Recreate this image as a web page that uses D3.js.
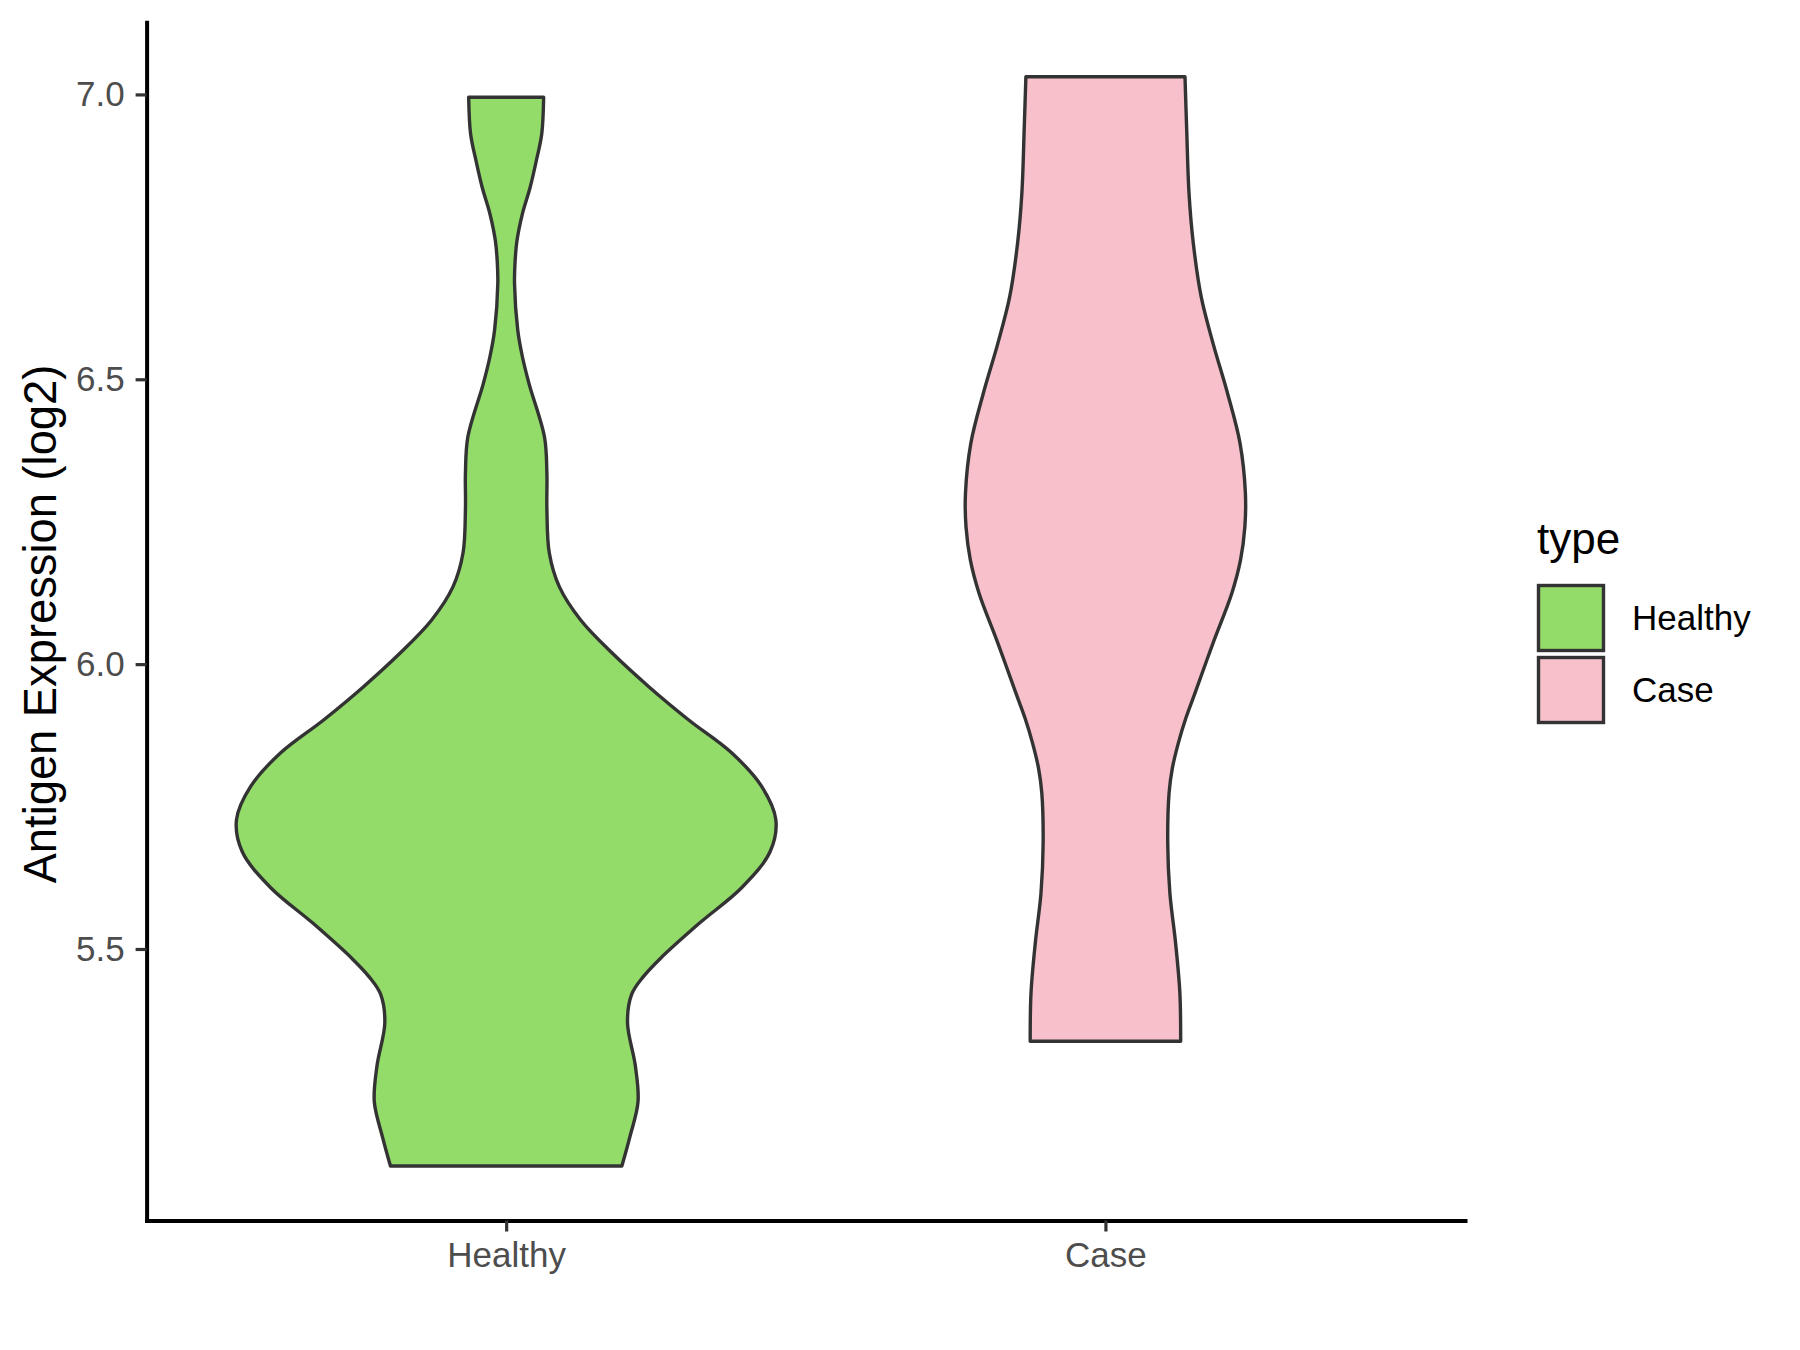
<!DOCTYPE html>
<html>
<head>
<meta charset="utf-8">
<script src="https://cdn.jsdelivr.net/npm/d3@7"></script>
<style>
  body { margin: 0; background: #ffffff; }
  text { font-family: "Liberation Sans", Arial, sans-serif; }
</style>
</head>
<body>
<script>
// categories on the x axis
let categories = ['Healthy', 'Case'];

// violin outlines: expression level (log2) and
// scaled density (1 = widest point of all violins)
let healthyValues = [6.995, 6.931, 6.884, 6.837, 6.790, 6.743, 6.706, 6.668, 6.586, 6.540,
  6.492, 6.399, 6.336, 6.273, 6.195, 6.136, 6.077, 6.019, 5.960, 5.902,
  5.844, 5.785, 5.727, 5.671, 5.608, 5.545, 5.483, 5.451, 5.420,
  5.370, 5.295, 5.232, 5.169, 5.119];
let healthyDensity = [0.139, 0.132, 0.112, 0.089, 0.060, 0.040, 0.033, 0.031, 0.043, 0.060,
  0.085, 0.142, 0.151, 0.151, 0.160, 0.197, 0.277, 0.394, 0.530, 0.677,
  0.837, 0.948, 1.000, 0.979, 0.874, 0.716, 0.571, 0.508, 0.465,
  0.450, 0.479, 0.489, 0.458, 0.429];

let caseValues = [7.031, 6.943, 6.826, 6.738, 6.645, 6.563, 6.475, 6.388, 6.300, 6.241,
  6.183, 6.125, 6.037, 5.949, 5.905, 5.861, 5.817, 5.774, 5.686, 5.598,
  5.511, 5.423, 5.338];
let caseDensity = [0.295, 0.301, 0.310, 0.326, 0.355, 0.399, 0.453, 0.499, 0.519, 0.517,
  0.501, 0.469, 0.399, 0.332, 0.298, 0.270, 0.248, 0.236, 0.231, 0.239,
  0.260, 0.276, 0.279];

let yTicks = [5.5, 6.0, 6.5, 7.0];

// configuration of svg/plot area
let config = {
  'svg': {},
  'plot': {},
  'colors': {}
};

config.svg.width = 1800;
config.svg.height = 1350;

config.plot.left = 146.6;
config.plot.right = 1465;
config.plot.top = 22.3;
config.plot.bottom = 1220.5;

config.colors.Healthy = '#93DC6A';
config.colors.Case = '#F7C0CB';
config.colors.outline = '#333333';
config.colors.tickText = '#4D4D4D';

// helper method to make translating easier
function translate(x, y) {
  return 'translate(' + x + ',' + y + ')';
}

let svg = d3.select('body').append('svg')
  .attr('width', config.svg.width)
  .attr('height', config.svg.height);

let groups = [
  { name: 'Healthy', values: healthyValues, density: healthyDensity },
  { name: 'Case', values: caseValues, density: caseDensity }
];

// y domain: data range plus 5% on each side (like ggplot)
let allValues = healthyValues.concat(caseValues);
let lo = d3.min(allValues);
let hi = d3.max(allValues);
let pad = (hi - lo) * 0.05;

let yScale = d3.scaleLinear()
  .domain([lo - pad, hi + pad])
  .range([config.plot.bottom, config.plot.top]);

let xScale = d3.scalePoint()
  .domain(categories)
  .range([config.plot.left, config.plot.right])
  .padding(0.6);

// violin width 0.9 of a category step
let widthScale = d3.scaleLinear()
  .domain([0, 1])
  .range([0, 0.45 * xScale.step()]);

// violins
let violins = svg.append('g').attr('id', 'violins');

groups.forEach(function(g) {
  let cx = xScale(g.name);
  let points = g.values.map((v, i) => ({ v: v, d: g.density[i] }));

  let area = d3.area()
    .y(d => yScale(d.v))
    .x0(d => cx - widthScale(d.d))
    .x1(d => cx + widthScale(d.d))
    .curve(d3.curveCatmullRom);

  violins.append('path')
    .datum(points)
    .attr('d', area)
    .attr('fill', config.colors[g.name])
    .attr('stroke', config.colors.outline)
    .attr('stroke-width', 3.4)
    .attr('stroke-linejoin', 'round');
});

// axes
let yAxis = d3.axisLeft(yScale)
  .tickValues(yTicks)
  .tickFormat(d3.format('.1f'))
  .tickSize(11)
  .tickSizeOuter(0)
  .tickPadding(11);

let xAxis = d3.axisBottom(xScale)
  .tickSize(11)
  .tickSizeOuter(0)
  .tickPadding(11);

let yGroup = svg.append('g').attr('id', 'y-axis')
  .attr('transform', translate(config.plot.left, 0))
  .call(yAxis);

let xGroup = svg.append('g').attr('id', 'x-axis')
  .attr('transform', translate(0, config.plot.bottom))
  .call(xAxis);

[yGroup, xGroup].forEach(function(g) {
  g.attr('font-size', 35).attr('font-family', '"Liberation Sans", Arial, sans-serif');
  g.select('.domain')
    .attr('stroke', '#000000')
    .attr('stroke-width', 4)
    .attr('stroke-linecap', 'square');
  g.selectAll('.tick line')
    .attr('stroke', config.colors.outline)
    .attr('stroke-width', 3.2);
  g.selectAll('.tick text')
    .attr('fill', config.colors.tickText);
});

// text label for the y axis
svg.append('text')
  .attr('transform', translate(56, 624) + ' rotate(-90)')
  .attr('text-anchor', 'middle')
  .attr('font-size', 45.3)
  .attr('fill', '#000000')
  .text('Antigen Expression (log2)');

// legend
let legend = svg.append('g').attr('id', 'legend')
  .attr('transform', translate(1537, 554));

legend.append('text')
  .attr('x', 0)
  .attr('y', 0)
  .attr('font-size', 44)
  .attr('fill', '#000000')
  .text('type');

let keys = legend.selectAll('.key')
  .data(categories)
  .enter().append('g')
  .attr('class', 'key')
  .attr('transform', (d, i) => translate(0, 30 + i * 72));

keys.append('rect')
  .attr('x', 1.5)
  .attr('y', 1.5)
  .attr('width', 65)
  .attr('height', 65)
  .attr('fill', d => config.colors[d])
  .attr('stroke', config.colors.outline)
  .attr('stroke-width', 3.4);

keys.append('text')
  .attr('x', 95)
  .attr('y', 34)
  .attr('dy', '0.35em')
  .attr('font-size', 35)
  .attr('fill', '#000000')
  .text(d => d);
</script>
</body>
</html>
